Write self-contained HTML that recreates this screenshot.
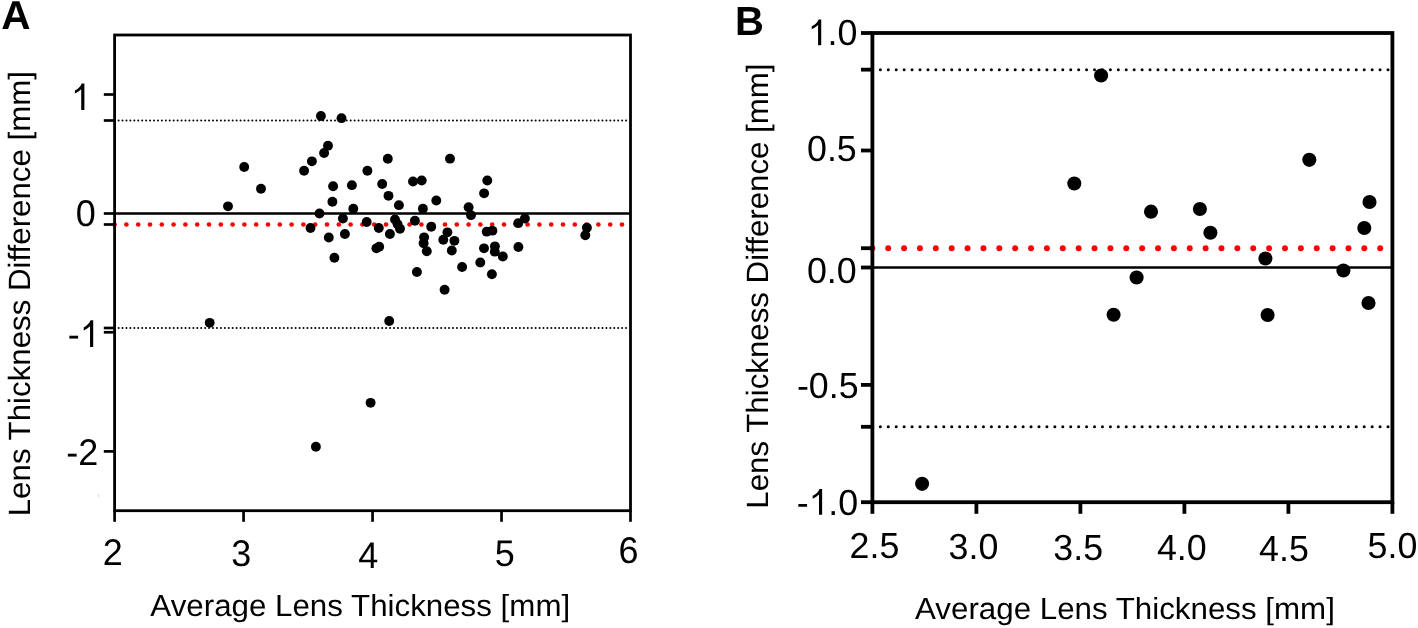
<!DOCTYPE html>
<html><head><meta charset="utf-8"><title>Bland-Altman plots</title>
<style>
html,body{margin:0;padding:0;background:#fff;}
body{width:1418px;height:628px;overflow:hidden;}
svg{display:block;font-family:"Liberation Sans", sans-serif;will-change:transform;text-rendering:geometricPrecision;}
svg text{font-family:"Liberation Sans", sans-serif;fill:#000;}
</style></head>
<body>
<svg width="1418" height="628" viewBox="0 0 1418 628">
<rect x="0" y="0" width="1418" height="628" fill="#fff"/>
<g fill="#000"><circle cx="118.60" cy="120.5" r="1.0"/><circle cx="122.53" cy="120.5" r="1.0"/><circle cx="126.47" cy="120.5" r="1.0"/><circle cx="130.40" cy="120.5" r="1.0"/><circle cx="134.34" cy="120.5" r="1.0"/><circle cx="138.27" cy="120.5" r="1.0"/><circle cx="142.20" cy="120.5" r="1.0"/><circle cx="146.14" cy="120.5" r="1.0"/><circle cx="150.07" cy="120.5" r="1.0"/><circle cx="154.01" cy="120.5" r="1.0"/><circle cx="157.94" cy="120.5" r="1.0"/><circle cx="161.87" cy="120.5" r="1.0"/><circle cx="165.81" cy="120.5" r="1.0"/><circle cx="169.74" cy="120.5" r="1.0"/><circle cx="173.68" cy="120.5" r="1.0"/><circle cx="177.61" cy="120.5" r="1.0"/><circle cx="181.54" cy="120.5" r="1.0"/><circle cx="185.48" cy="120.5" r="1.0"/><circle cx="189.41" cy="120.5" r="1.0"/><circle cx="193.35" cy="120.5" r="1.0"/><circle cx="197.28" cy="120.5" r="1.0"/><circle cx="201.21" cy="120.5" r="1.0"/><circle cx="205.15" cy="120.5" r="1.0"/><circle cx="209.08" cy="120.5" r="1.0"/><circle cx="213.02" cy="120.5" r="1.0"/><circle cx="216.95" cy="120.5" r="1.0"/><circle cx="220.88" cy="120.5" r="1.0"/><circle cx="224.82" cy="120.5" r="1.0"/><circle cx="228.75" cy="120.5" r="1.0"/><circle cx="232.69" cy="120.5" r="1.0"/><circle cx="236.62" cy="120.5" r="1.0"/><circle cx="240.55" cy="120.5" r="1.0"/><circle cx="244.49" cy="120.5" r="1.0"/><circle cx="248.42" cy="120.5" r="1.0"/><circle cx="252.36" cy="120.5" r="1.0"/><circle cx="256.29" cy="120.5" r="1.0"/><circle cx="260.22" cy="120.5" r="1.0"/><circle cx="264.16" cy="120.5" r="1.0"/><circle cx="268.09" cy="120.5" r="1.0"/><circle cx="272.03" cy="120.5" r="1.0"/><circle cx="275.96" cy="120.5" r="1.0"/><circle cx="279.89" cy="120.5" r="1.0"/><circle cx="283.83" cy="120.5" r="1.0"/><circle cx="287.76" cy="120.5" r="1.0"/><circle cx="291.70" cy="120.5" r="1.0"/><circle cx="295.63" cy="120.5" r="1.0"/><circle cx="299.56" cy="120.5" r="1.0"/><circle cx="303.50" cy="120.5" r="1.0"/><circle cx="307.43" cy="120.5" r="1.0"/><circle cx="311.37" cy="120.5" r="1.0"/><circle cx="315.30" cy="120.5" r="1.0"/><circle cx="319.23" cy="120.5" r="1.0"/><circle cx="323.17" cy="120.5" r="1.0"/><circle cx="327.10" cy="120.5" r="1.0"/><circle cx="331.04" cy="120.5" r="1.0"/><circle cx="334.97" cy="120.5" r="1.0"/><circle cx="338.90" cy="120.5" r="1.0"/><circle cx="342.84" cy="120.5" r="1.0"/><circle cx="346.77" cy="120.5" r="1.0"/><circle cx="350.71" cy="120.5" r="1.0"/><circle cx="354.64" cy="120.5" r="1.0"/><circle cx="358.57" cy="120.5" r="1.0"/><circle cx="362.51" cy="120.5" r="1.0"/><circle cx="366.44" cy="120.5" r="1.0"/><circle cx="370.38" cy="120.5" r="1.0"/><circle cx="374.31" cy="120.5" r="1.0"/><circle cx="378.24" cy="120.5" r="1.0"/><circle cx="382.18" cy="120.5" r="1.0"/><circle cx="386.11" cy="120.5" r="1.0"/><circle cx="390.05" cy="120.5" r="1.0"/><circle cx="393.98" cy="120.5" r="1.0"/><circle cx="397.91" cy="120.5" r="1.0"/><circle cx="401.85" cy="120.5" r="1.0"/><circle cx="405.78" cy="120.5" r="1.0"/><circle cx="409.72" cy="120.5" r="1.0"/><circle cx="413.65" cy="120.5" r="1.0"/><circle cx="417.58" cy="120.5" r="1.0"/><circle cx="421.52" cy="120.5" r="1.0"/><circle cx="425.45" cy="120.5" r="1.0"/><circle cx="429.39" cy="120.5" r="1.0"/><circle cx="433.32" cy="120.5" r="1.0"/><circle cx="437.25" cy="120.5" r="1.0"/><circle cx="441.19" cy="120.5" r="1.0"/><circle cx="445.12" cy="120.5" r="1.0"/><circle cx="449.06" cy="120.5" r="1.0"/><circle cx="452.99" cy="120.5" r="1.0"/><circle cx="456.92" cy="120.5" r="1.0"/><circle cx="460.86" cy="120.5" r="1.0"/><circle cx="464.79" cy="120.5" r="1.0"/><circle cx="468.73" cy="120.5" r="1.0"/><circle cx="472.66" cy="120.5" r="1.0"/><circle cx="476.59" cy="120.5" r="1.0"/><circle cx="480.53" cy="120.5" r="1.0"/><circle cx="484.46" cy="120.5" r="1.0"/><circle cx="488.40" cy="120.5" r="1.0"/><circle cx="492.33" cy="120.5" r="1.0"/><circle cx="496.26" cy="120.5" r="1.0"/><circle cx="500.20" cy="120.5" r="1.0"/><circle cx="504.13" cy="120.5" r="1.0"/><circle cx="508.07" cy="120.5" r="1.0"/><circle cx="512.00" cy="120.5" r="1.0"/><circle cx="515.93" cy="120.5" r="1.0"/><circle cx="519.87" cy="120.5" r="1.0"/><circle cx="523.80" cy="120.5" r="1.0"/><circle cx="527.74" cy="120.5" r="1.0"/><circle cx="531.67" cy="120.5" r="1.0"/><circle cx="535.60" cy="120.5" r="1.0"/><circle cx="539.54" cy="120.5" r="1.0"/><circle cx="543.47" cy="120.5" r="1.0"/><circle cx="547.41" cy="120.5" r="1.0"/><circle cx="551.34" cy="120.5" r="1.0"/><circle cx="555.27" cy="120.5" r="1.0"/><circle cx="559.21" cy="120.5" r="1.0"/><circle cx="563.14" cy="120.5" r="1.0"/><circle cx="567.08" cy="120.5" r="1.0"/><circle cx="571.01" cy="120.5" r="1.0"/><circle cx="574.94" cy="120.5" r="1.0"/><circle cx="578.88" cy="120.5" r="1.0"/><circle cx="582.81" cy="120.5" r="1.0"/><circle cx="586.75" cy="120.5" r="1.0"/><circle cx="590.68" cy="120.5" r="1.0"/><circle cx="594.61" cy="120.5" r="1.0"/><circle cx="598.55" cy="120.5" r="1.0"/><circle cx="602.48" cy="120.5" r="1.0"/><circle cx="606.42" cy="120.5" r="1.0"/><circle cx="610.35" cy="120.5" r="1.0"/><circle cx="614.28" cy="120.5" r="1.0"/><circle cx="618.22" cy="120.5" r="1.0"/><circle cx="622.15" cy="120.5" r="1.0"/><circle cx="626.09" cy="120.5" r="1.0"/></g>
<g fill="#000"><circle cx="118.60" cy="328.1" r="1.0"/><circle cx="122.53" cy="328.1" r="1.0"/><circle cx="126.47" cy="328.1" r="1.0"/><circle cx="130.40" cy="328.1" r="1.0"/><circle cx="134.34" cy="328.1" r="1.0"/><circle cx="138.27" cy="328.1" r="1.0"/><circle cx="142.20" cy="328.1" r="1.0"/><circle cx="146.14" cy="328.1" r="1.0"/><circle cx="150.07" cy="328.1" r="1.0"/><circle cx="154.01" cy="328.1" r="1.0"/><circle cx="157.94" cy="328.1" r="1.0"/><circle cx="161.87" cy="328.1" r="1.0"/><circle cx="165.81" cy="328.1" r="1.0"/><circle cx="169.74" cy="328.1" r="1.0"/><circle cx="173.68" cy="328.1" r="1.0"/><circle cx="177.61" cy="328.1" r="1.0"/><circle cx="181.54" cy="328.1" r="1.0"/><circle cx="185.48" cy="328.1" r="1.0"/><circle cx="189.41" cy="328.1" r="1.0"/><circle cx="193.35" cy="328.1" r="1.0"/><circle cx="197.28" cy="328.1" r="1.0"/><circle cx="201.21" cy="328.1" r="1.0"/><circle cx="205.15" cy="328.1" r="1.0"/><circle cx="209.08" cy="328.1" r="1.0"/><circle cx="213.02" cy="328.1" r="1.0"/><circle cx="216.95" cy="328.1" r="1.0"/><circle cx="220.88" cy="328.1" r="1.0"/><circle cx="224.82" cy="328.1" r="1.0"/><circle cx="228.75" cy="328.1" r="1.0"/><circle cx="232.69" cy="328.1" r="1.0"/><circle cx="236.62" cy="328.1" r="1.0"/><circle cx="240.55" cy="328.1" r="1.0"/><circle cx="244.49" cy="328.1" r="1.0"/><circle cx="248.42" cy="328.1" r="1.0"/><circle cx="252.36" cy="328.1" r="1.0"/><circle cx="256.29" cy="328.1" r="1.0"/><circle cx="260.22" cy="328.1" r="1.0"/><circle cx="264.16" cy="328.1" r="1.0"/><circle cx="268.09" cy="328.1" r="1.0"/><circle cx="272.03" cy="328.1" r="1.0"/><circle cx="275.96" cy="328.1" r="1.0"/><circle cx="279.89" cy="328.1" r="1.0"/><circle cx="283.83" cy="328.1" r="1.0"/><circle cx="287.76" cy="328.1" r="1.0"/><circle cx="291.70" cy="328.1" r="1.0"/><circle cx="295.63" cy="328.1" r="1.0"/><circle cx="299.56" cy="328.1" r="1.0"/><circle cx="303.50" cy="328.1" r="1.0"/><circle cx="307.43" cy="328.1" r="1.0"/><circle cx="311.37" cy="328.1" r="1.0"/><circle cx="315.30" cy="328.1" r="1.0"/><circle cx="319.23" cy="328.1" r="1.0"/><circle cx="323.17" cy="328.1" r="1.0"/><circle cx="327.10" cy="328.1" r="1.0"/><circle cx="331.04" cy="328.1" r="1.0"/><circle cx="334.97" cy="328.1" r="1.0"/><circle cx="338.90" cy="328.1" r="1.0"/><circle cx="342.84" cy="328.1" r="1.0"/><circle cx="346.77" cy="328.1" r="1.0"/><circle cx="350.71" cy="328.1" r="1.0"/><circle cx="354.64" cy="328.1" r="1.0"/><circle cx="358.57" cy="328.1" r="1.0"/><circle cx="362.51" cy="328.1" r="1.0"/><circle cx="366.44" cy="328.1" r="1.0"/><circle cx="370.38" cy="328.1" r="1.0"/><circle cx="374.31" cy="328.1" r="1.0"/><circle cx="378.24" cy="328.1" r="1.0"/><circle cx="382.18" cy="328.1" r="1.0"/><circle cx="386.11" cy="328.1" r="1.0"/><circle cx="390.05" cy="328.1" r="1.0"/><circle cx="393.98" cy="328.1" r="1.0"/><circle cx="397.91" cy="328.1" r="1.0"/><circle cx="401.85" cy="328.1" r="1.0"/><circle cx="405.78" cy="328.1" r="1.0"/><circle cx="409.72" cy="328.1" r="1.0"/><circle cx="413.65" cy="328.1" r="1.0"/><circle cx="417.58" cy="328.1" r="1.0"/><circle cx="421.52" cy="328.1" r="1.0"/><circle cx="425.45" cy="328.1" r="1.0"/><circle cx="429.39" cy="328.1" r="1.0"/><circle cx="433.32" cy="328.1" r="1.0"/><circle cx="437.25" cy="328.1" r="1.0"/><circle cx="441.19" cy="328.1" r="1.0"/><circle cx="445.12" cy="328.1" r="1.0"/><circle cx="449.06" cy="328.1" r="1.0"/><circle cx="452.99" cy="328.1" r="1.0"/><circle cx="456.92" cy="328.1" r="1.0"/><circle cx="460.86" cy="328.1" r="1.0"/><circle cx="464.79" cy="328.1" r="1.0"/><circle cx="468.73" cy="328.1" r="1.0"/><circle cx="472.66" cy="328.1" r="1.0"/><circle cx="476.59" cy="328.1" r="1.0"/><circle cx="480.53" cy="328.1" r="1.0"/><circle cx="484.46" cy="328.1" r="1.0"/><circle cx="488.40" cy="328.1" r="1.0"/><circle cx="492.33" cy="328.1" r="1.0"/><circle cx="496.26" cy="328.1" r="1.0"/><circle cx="500.20" cy="328.1" r="1.0"/><circle cx="504.13" cy="328.1" r="1.0"/><circle cx="508.07" cy="328.1" r="1.0"/><circle cx="512.00" cy="328.1" r="1.0"/><circle cx="515.93" cy="328.1" r="1.0"/><circle cx="519.87" cy="328.1" r="1.0"/><circle cx="523.80" cy="328.1" r="1.0"/><circle cx="527.74" cy="328.1" r="1.0"/><circle cx="531.67" cy="328.1" r="1.0"/><circle cx="535.60" cy="328.1" r="1.0"/><circle cx="539.54" cy="328.1" r="1.0"/><circle cx="543.47" cy="328.1" r="1.0"/><circle cx="547.41" cy="328.1" r="1.0"/><circle cx="551.34" cy="328.1" r="1.0"/><circle cx="555.27" cy="328.1" r="1.0"/><circle cx="559.21" cy="328.1" r="1.0"/><circle cx="563.14" cy="328.1" r="1.0"/><circle cx="567.08" cy="328.1" r="1.0"/><circle cx="571.01" cy="328.1" r="1.0"/><circle cx="574.94" cy="328.1" r="1.0"/><circle cx="578.88" cy="328.1" r="1.0"/><circle cx="582.81" cy="328.1" r="1.0"/><circle cx="586.75" cy="328.1" r="1.0"/><circle cx="590.68" cy="328.1" r="1.0"/><circle cx="594.61" cy="328.1" r="1.0"/><circle cx="598.55" cy="328.1" r="1.0"/><circle cx="602.48" cy="328.1" r="1.0"/><circle cx="606.42" cy="328.1" r="1.0"/><circle cx="610.35" cy="328.1" r="1.0"/><circle cx="614.28" cy="328.1" r="1.0"/><circle cx="618.22" cy="328.1" r="1.0"/><circle cx="622.15" cy="328.1" r="1.0"/><circle cx="626.09" cy="328.1" r="1.0"/></g>
<line x1="114.6" y1="213.5" x2="630.5" y2="213.5" stroke="#000" stroke-width="2.4" />
<g fill="#ff0000"><circle cx="114.60" cy="224.5" r="2.3"/><circle cx="126.40" cy="224.5" r="2.3"/><circle cx="138.20" cy="224.5" r="2.3"/><circle cx="150.00" cy="224.5" r="2.3"/><circle cx="161.80" cy="224.5" r="2.3"/><circle cx="173.60" cy="224.5" r="2.3"/><circle cx="185.40" cy="224.5" r="2.3"/><circle cx="197.20" cy="224.5" r="2.3"/><circle cx="209.00" cy="224.5" r="2.3"/><circle cx="220.80" cy="224.5" r="2.3"/><circle cx="232.60" cy="224.5" r="2.3"/><circle cx="244.40" cy="224.5" r="2.3"/><circle cx="256.20" cy="224.5" r="2.3"/><circle cx="268.00" cy="224.5" r="2.3"/><circle cx="279.80" cy="224.5" r="2.3"/><circle cx="291.60" cy="224.5" r="2.3"/><circle cx="303.40" cy="224.5" r="2.3"/><circle cx="315.20" cy="224.5" r="2.3"/><circle cx="327.00" cy="224.5" r="2.3"/><circle cx="338.80" cy="224.5" r="2.3"/><circle cx="350.60" cy="224.5" r="2.3"/><circle cx="362.40" cy="224.5" r="2.3"/><circle cx="374.20" cy="224.5" r="2.3"/><circle cx="386.00" cy="224.5" r="2.3"/><circle cx="397.80" cy="224.5" r="2.3"/><circle cx="409.60" cy="224.5" r="2.3"/><circle cx="421.40" cy="224.5" r="2.3"/><circle cx="433.20" cy="224.5" r="2.3"/><circle cx="445.00" cy="224.5" r="2.3"/><circle cx="456.80" cy="224.5" r="2.3"/><circle cx="468.60" cy="224.5" r="2.3"/><circle cx="480.40" cy="224.5" r="2.3"/><circle cx="492.20" cy="224.5" r="2.3"/><circle cx="504.00" cy="224.5" r="2.3"/><circle cx="515.80" cy="224.5" r="2.3"/><circle cx="527.60" cy="224.5" r="2.3"/><circle cx="539.40" cy="224.5" r="2.3"/><circle cx="551.20" cy="224.5" r="2.3"/><circle cx="563.00" cy="224.5" r="2.3"/><circle cx="574.80" cy="224.5" r="2.3"/><circle cx="586.60" cy="224.5" r="2.3"/><circle cx="598.40" cy="224.5" r="2.3"/><circle cx="610.20" cy="224.5" r="2.3"/><circle cx="622.00" cy="224.5" r="2.3"/></g>
<g fill="#000"><circle cx="320.9" cy="115.95" r="4.95"/><circle cx="341.5" cy="118.15" r="4.95"/><circle cx="328.0" cy="145.65" r="4.95"/><circle cx="324.1" cy="152.95000000000002" r="4.95"/><circle cx="311.9" cy="161.35" r="4.95"/><circle cx="304.1" cy="170.75" r="4.95"/><circle cx="244.2" cy="167.05" r="4.95"/><circle cx="367.4" cy="170.75" r="4.95"/><circle cx="261.0" cy="188.75" r="4.95"/><circle cx="228.0" cy="206.35" r="4.95"/><circle cx="333.1" cy="186.25" r="4.95"/><circle cx="351.9" cy="185.15" r="4.95"/><circle cx="382.2" cy="183.95000000000002" r="4.95"/><circle cx="387.8" cy="158.75" r="4.95"/><circle cx="332.4" cy="201.75" r="4.95"/><circle cx="353.3" cy="208.65" r="4.95"/><circle cx="319.5" cy="213.45000000000002" r="4.95"/><circle cx="342.9" cy="218.55" r="4.95"/><circle cx="366.7" cy="222.05" r="4.95"/><circle cx="310.5" cy="227.95000000000002" r="4.95"/><circle cx="378.8" cy="228.05" r="4.95"/><circle cx="328.8" cy="237.55" r="4.95"/><circle cx="344.9" cy="233.95000000000002" r="4.95"/><circle cx="376.4" cy="248.35" r="4.95"/><circle cx="379.2" cy="246.75" r="4.95"/><circle cx="334.4" cy="257.75" r="4.95"/><circle cx="388.5" cy="195.85" r="4.95"/><circle cx="398.9" cy="205.15" r="4.95"/><circle cx="413.0" cy="181.45000000000002" r="4.95"/><circle cx="421.7" cy="180.45000000000002" r="4.95"/><circle cx="436.3" cy="200.55" r="4.95"/><circle cx="422.9" cy="208.65" r="4.95"/><circle cx="450.0" cy="158.65" r="4.95"/><circle cx="395.0" cy="219.45000000000002" r="4.95"/><circle cx="397.6" cy="224.15" r="4.95"/><circle cx="400.0" cy="228.85" r="4.95"/><circle cx="389.9" cy="233.95000000000002" r="4.95"/><circle cx="414.9" cy="220.75" r="4.95"/><circle cx="431.2" cy="226.75" r="4.95"/><circle cx="424.1" cy="237.35" r="4.95"/><circle cx="423.6" cy="243.25" r="4.95"/><circle cx="426.8" cy="251.25" r="4.95"/><circle cx="447.4" cy="232.35" r="4.95"/><circle cx="443.3" cy="239.75" r="4.95"/><circle cx="454.4" cy="240.85" r="4.95"/><circle cx="451.8" cy="250.45000000000002" r="4.95"/><circle cx="416.9" cy="271.95" r="4.95"/><circle cx="462.1" cy="267.04999999999995" r="4.95"/><circle cx="444.6" cy="289.75" r="4.95"/><circle cx="487.3" cy="180.45000000000002" r="4.95"/><circle cx="484.1" cy="193.35" r="4.95"/><circle cx="468.6" cy="207.25" r="4.95"/><circle cx="471.0" cy="215.15" r="4.95"/><circle cx="524.9" cy="218.55" r="4.95"/><circle cx="518.2" cy="223.15" r="4.95"/><circle cx="486.7" cy="231.65" r="4.95"/><circle cx="492.4" cy="230.65" r="4.95"/><circle cx="484.0" cy="248.35" r="4.95"/><circle cx="494.9" cy="246.35" r="4.95"/><circle cx="494.8" cy="251.65" r="4.95"/><circle cx="502.8" cy="256.54999999999995" r="4.95"/><circle cx="518.4" cy="246.95000000000002" r="4.95"/><circle cx="480.3" cy="262.54999999999995" r="4.95"/><circle cx="491.9" cy="274.25" r="4.95"/><circle cx="586.9" cy="227.75" r="4.95"/><circle cx="585.3" cy="235.25" r="4.95"/><circle cx="209.7" cy="322.84999999999997" r="4.95"/><circle cx="389.2" cy="320.95" r="4.95"/><circle cx="370.6" cy="402.84999999999997" r="4.95"/><circle cx="315.9" cy="446.75" r="4.95"/></g>
<rect x="114.6" y="35.0" width="515.9" height="475.7" fill="none" stroke="#000" stroke-width="2.8"/>
<line x1="103.8" y1="94.5" x2="114.6" y2="94.5" stroke="#000" stroke-width="2.7" />
<line x1="103.8" y1="120.5" x2="114.6" y2="120.5" stroke="#000" stroke-width="2.7" />
<line x1="103.8" y1="213.5" x2="114.6" y2="213.5" stroke="#000" stroke-width="2.7" />
<line x1="103.8" y1="224.5" x2="114.6" y2="224.5" stroke="#000" stroke-width="2.7" />
<line x1="103.8" y1="328.0" x2="114.6" y2="328.0" stroke="#000" stroke-width="2.7" />
<line x1="103.8" y1="332.3" x2="114.6" y2="332.3" stroke="#000" stroke-width="2.7" />
<line x1="103.8" y1="451.4" x2="114.6" y2="451.4" stroke="#000" stroke-width="2.7" />
<line x1="114.6" y1="510.7" x2="114.6" y2="521.8" stroke="#000" stroke-width="2.7" />
<line x1="243.575" y1="510.7" x2="243.575" y2="521.8" stroke="#000" stroke-width="2.7" />
<line x1="372.54999999999995" y1="510.7" x2="372.54999999999995" y2="521.8" stroke="#000" stroke-width="2.7" />
<line x1="501.525" y1="510.7" x2="501.525" y2="521.8" stroke="#000" stroke-width="2.7" />
<line x1="630.5" y1="510.7" x2="630.5" y2="521.8" stroke="#000" stroke-width="2.7" />
<g fill="#000"><circle cx="880.35" cy="69.65" r="1.5"/><circle cx="888.28" cy="69.65" r="1.5"/><circle cx="896.21" cy="69.65" r="1.5"/><circle cx="904.15" cy="69.65" r="1.5"/><circle cx="912.08" cy="69.65" r="1.5"/><circle cx="920.01" cy="69.65" r="1.5"/><circle cx="927.94" cy="69.65" r="1.5"/><circle cx="935.87" cy="69.65" r="1.5"/><circle cx="943.81" cy="69.65" r="1.5"/><circle cx="951.74" cy="69.65" r="1.5"/><circle cx="959.67" cy="69.65" r="1.5"/><circle cx="967.60" cy="69.65" r="1.5"/><circle cx="975.53" cy="69.65" r="1.5"/><circle cx="983.47" cy="69.65" r="1.5"/><circle cx="991.40" cy="69.65" r="1.5"/><circle cx="999.33" cy="69.65" r="1.5"/><circle cx="1007.26" cy="69.65" r="1.5"/><circle cx="1015.19" cy="69.65" r="1.5"/><circle cx="1023.13" cy="69.65" r="1.5"/><circle cx="1031.06" cy="69.65" r="1.5"/><circle cx="1038.99" cy="69.65" r="1.5"/><circle cx="1046.92" cy="69.65" r="1.5"/><circle cx="1054.85" cy="69.65" r="1.5"/><circle cx="1062.79" cy="69.65" r="1.5"/><circle cx="1070.72" cy="69.65" r="1.5"/><circle cx="1078.65" cy="69.65" r="1.5"/><circle cx="1086.58" cy="69.65" r="1.5"/><circle cx="1094.51" cy="69.65" r="1.5"/><circle cx="1102.45" cy="69.65" r="1.5"/><circle cx="1110.38" cy="69.65" r="1.5"/><circle cx="1118.31" cy="69.65" r="1.5"/><circle cx="1126.24" cy="69.65" r="1.5"/><circle cx="1134.17" cy="69.65" r="1.5"/><circle cx="1142.11" cy="69.65" r="1.5"/><circle cx="1150.04" cy="69.65" r="1.5"/><circle cx="1157.97" cy="69.65" r="1.5"/><circle cx="1165.90" cy="69.65" r="1.5"/><circle cx="1173.83" cy="69.65" r="1.5"/><circle cx="1181.77" cy="69.65" r="1.5"/><circle cx="1189.70" cy="69.65" r="1.5"/><circle cx="1197.63" cy="69.65" r="1.5"/><circle cx="1205.56" cy="69.65" r="1.5"/><circle cx="1213.49" cy="69.65" r="1.5"/><circle cx="1221.43" cy="69.65" r="1.5"/><circle cx="1229.36" cy="69.65" r="1.5"/><circle cx="1237.29" cy="69.65" r="1.5"/><circle cx="1245.22" cy="69.65" r="1.5"/><circle cx="1253.15" cy="69.65" r="1.5"/><circle cx="1261.09" cy="69.65" r="1.5"/><circle cx="1269.02" cy="69.65" r="1.5"/><circle cx="1276.95" cy="69.65" r="1.5"/><circle cx="1284.88" cy="69.65" r="1.5"/><circle cx="1292.81" cy="69.65" r="1.5"/><circle cx="1300.75" cy="69.65" r="1.5"/><circle cx="1308.68" cy="69.65" r="1.5"/><circle cx="1316.61" cy="69.65" r="1.5"/><circle cx="1324.54" cy="69.65" r="1.5"/><circle cx="1332.47" cy="69.65" r="1.5"/><circle cx="1340.41" cy="69.65" r="1.5"/><circle cx="1348.34" cy="69.65" r="1.5"/><circle cx="1356.27" cy="69.65" r="1.5"/><circle cx="1364.20" cy="69.65" r="1.5"/><circle cx="1372.13" cy="69.65" r="1.5"/><circle cx="1380.07" cy="69.65" r="1.5"/><circle cx="1388.00" cy="69.65" r="1.5"/></g>
<g fill="#000"><circle cx="880.35" cy="426.8" r="1.5"/><circle cx="888.28" cy="426.8" r="1.5"/><circle cx="896.21" cy="426.8" r="1.5"/><circle cx="904.15" cy="426.8" r="1.5"/><circle cx="912.08" cy="426.8" r="1.5"/><circle cx="920.01" cy="426.8" r="1.5"/><circle cx="927.94" cy="426.8" r="1.5"/><circle cx="935.87" cy="426.8" r="1.5"/><circle cx="943.81" cy="426.8" r="1.5"/><circle cx="951.74" cy="426.8" r="1.5"/><circle cx="959.67" cy="426.8" r="1.5"/><circle cx="967.60" cy="426.8" r="1.5"/><circle cx="975.53" cy="426.8" r="1.5"/><circle cx="983.47" cy="426.8" r="1.5"/><circle cx="991.40" cy="426.8" r="1.5"/><circle cx="999.33" cy="426.8" r="1.5"/><circle cx="1007.26" cy="426.8" r="1.5"/><circle cx="1015.19" cy="426.8" r="1.5"/><circle cx="1023.13" cy="426.8" r="1.5"/><circle cx="1031.06" cy="426.8" r="1.5"/><circle cx="1038.99" cy="426.8" r="1.5"/><circle cx="1046.92" cy="426.8" r="1.5"/><circle cx="1054.85" cy="426.8" r="1.5"/><circle cx="1062.79" cy="426.8" r="1.5"/><circle cx="1070.72" cy="426.8" r="1.5"/><circle cx="1078.65" cy="426.8" r="1.5"/><circle cx="1086.58" cy="426.8" r="1.5"/><circle cx="1094.51" cy="426.8" r="1.5"/><circle cx="1102.45" cy="426.8" r="1.5"/><circle cx="1110.38" cy="426.8" r="1.5"/><circle cx="1118.31" cy="426.8" r="1.5"/><circle cx="1126.24" cy="426.8" r="1.5"/><circle cx="1134.17" cy="426.8" r="1.5"/><circle cx="1142.11" cy="426.8" r="1.5"/><circle cx="1150.04" cy="426.8" r="1.5"/><circle cx="1157.97" cy="426.8" r="1.5"/><circle cx="1165.90" cy="426.8" r="1.5"/><circle cx="1173.83" cy="426.8" r="1.5"/><circle cx="1181.77" cy="426.8" r="1.5"/><circle cx="1189.70" cy="426.8" r="1.5"/><circle cx="1197.63" cy="426.8" r="1.5"/><circle cx="1205.56" cy="426.8" r="1.5"/><circle cx="1213.49" cy="426.8" r="1.5"/><circle cx="1221.43" cy="426.8" r="1.5"/><circle cx="1229.36" cy="426.8" r="1.5"/><circle cx="1237.29" cy="426.8" r="1.5"/><circle cx="1245.22" cy="426.8" r="1.5"/><circle cx="1253.15" cy="426.8" r="1.5"/><circle cx="1261.09" cy="426.8" r="1.5"/><circle cx="1269.02" cy="426.8" r="1.5"/><circle cx="1276.95" cy="426.8" r="1.5"/><circle cx="1284.88" cy="426.8" r="1.5"/><circle cx="1292.81" cy="426.8" r="1.5"/><circle cx="1300.75" cy="426.8" r="1.5"/><circle cx="1308.68" cy="426.8" r="1.5"/><circle cx="1316.61" cy="426.8" r="1.5"/><circle cx="1324.54" cy="426.8" r="1.5"/><circle cx="1332.47" cy="426.8" r="1.5"/><circle cx="1340.41" cy="426.8" r="1.5"/><circle cx="1348.34" cy="426.8" r="1.5"/><circle cx="1356.27" cy="426.8" r="1.5"/><circle cx="1364.20" cy="426.8" r="1.5"/><circle cx="1372.13" cy="426.8" r="1.5"/><circle cx="1380.07" cy="426.8" r="1.5"/><circle cx="1388.00" cy="426.8" r="1.5"/></g>
<line x1="872.4" y1="267.5" x2="1392.4" y2="267.5" stroke="#000" stroke-width="2.6" />
<g fill="#ff0000"><circle cx="872.33" cy="248.2" r="2.95"/><circle cx="888.20" cy="248.2" r="2.95"/><circle cx="904.07" cy="248.2" r="2.95"/><circle cx="919.94" cy="248.2" r="2.95"/><circle cx="935.81" cy="248.2" r="2.95"/><circle cx="951.68" cy="248.2" r="2.95"/><circle cx="967.56" cy="248.2" r="2.95"/><circle cx="983.43" cy="248.2" r="2.95"/><circle cx="999.30" cy="248.2" r="2.95"/><circle cx="1015.17" cy="248.2" r="2.95"/><circle cx="1031.04" cy="248.2" r="2.95"/><circle cx="1046.91" cy="248.2" r="2.95"/><circle cx="1062.78" cy="248.2" r="2.95"/><circle cx="1078.65" cy="248.2" r="2.95"/><circle cx="1094.52" cy="248.2" r="2.95"/><circle cx="1110.40" cy="248.2" r="2.95"/><circle cx="1126.27" cy="248.2" r="2.95"/><circle cx="1142.14" cy="248.2" r="2.95"/><circle cx="1158.01" cy="248.2" r="2.95"/><circle cx="1173.88" cy="248.2" r="2.95"/><circle cx="1189.75" cy="248.2" r="2.95"/><circle cx="1205.62" cy="248.2" r="2.95"/><circle cx="1221.49" cy="248.2" r="2.95"/><circle cx="1237.36" cy="248.2" r="2.95"/><circle cx="1253.23" cy="248.2" r="2.95"/><circle cx="1269.11" cy="248.2" r="2.95"/><circle cx="1284.98" cy="248.2" r="2.95"/><circle cx="1300.85" cy="248.2" r="2.95"/><circle cx="1316.72" cy="248.2" r="2.95"/><circle cx="1332.59" cy="248.2" r="2.95"/><circle cx="1348.46" cy="248.2" r="2.95"/><circle cx="1364.33" cy="248.2" r="2.95"/><circle cx="1380.20" cy="248.2" r="2.95"/></g>
<g fill="#000"><circle cx="1101.1" cy="75.55000000000001" r="7.05"/><circle cx="1074.3" cy="183.45000000000002" r="7.05"/><circle cx="1151.0" cy="211.65" r="7.05"/><circle cx="1199.9" cy="208.95000000000002" r="7.05"/><circle cx="1210.4" cy="232.75" r="7.05"/><circle cx="1136.6" cy="277.45" r="7.05"/><circle cx="1113.6" cy="314.75" r="7.05"/><circle cx="1309.3" cy="159.85" r="7.05"/><circle cx="1369.5" cy="201.95000000000002" r="7.05"/><circle cx="1364.3" cy="228.05" r="7.05"/><circle cx="1265.4" cy="258.54999999999995" r="7.05"/><circle cx="1343.4" cy="270.54999999999995" r="7.05"/><circle cx="1267.6" cy="314.95" r="7.05"/><circle cx="1368.5" cy="302.95" r="7.05"/><circle cx="922.1" cy="483.84999999999997" r="7.05"/></g>
<rect x="872.4" y="33.0" width="520.0000000000001" height="469.2" fill="none" stroke="#000" stroke-width="3.8"/>
<line x1="861.0" y1="33.0" x2="872.4" y2="33.0" stroke="#000" stroke-width="3.8" />
<line x1="861.0" y1="69.65" x2="872.4" y2="69.65" stroke="#000" stroke-width="3.8" />
<line x1="861.0" y1="150.5" x2="872.4" y2="150.5" stroke="#000" stroke-width="3.8" />
<line x1="861.0" y1="248.2" x2="872.4" y2="248.2" stroke="#000" stroke-width="3.8" />
<line x1="861.0" y1="267.5" x2="872.4" y2="267.5" stroke="#000" stroke-width="3.8" />
<line x1="861.0" y1="384.9" x2="872.4" y2="384.9" stroke="#000" stroke-width="3.8" />
<line x1="861.0" y1="426.8" x2="872.4" y2="426.8" stroke="#000" stroke-width="3.8" />
<line x1="861.0" y1="502.2" x2="872.4" y2="502.2" stroke="#000" stroke-width="3.8" />
<line x1="872.4" y1="502.2" x2="872.4" y2="513.8" stroke="#000" stroke-width="3.8" />
<line x1="976.4" y1="502.2" x2="976.4" y2="513.8" stroke="#000" stroke-width="3.8" />
<line x1="1080.4" y1="502.2" x2="1080.4" y2="513.8" stroke="#000" stroke-width="3.8" />
<line x1="1184.4" y1="502.2" x2="1184.4" y2="513.8" stroke="#000" stroke-width="3.8" />
<line x1="1288.4" y1="502.2" x2="1288.4" y2="513.8" stroke="#000" stroke-width="3.8" />
<line x1="1392.4" y1="502.2" x2="1392.4" y2="513.8" stroke="#000" stroke-width="3.8" />
<rect x="98" y="494" width="1.1" height="3.2" fill="#dcdcdc"/>
<rect x="858" y="517" width="1" height="1.2" fill="#e6e6e6"/>
<g transform="translate(102.69,565.05) scale(36.000,37.080)"><text x="0.0000" y="0" font-size="1" font-weight="400">2</text></g>
<g transform="translate(231.24,566.21) scale(36.000,37.080)"><text x="0.0000" y="0" font-size="1" font-weight="400">3</text></g>
<g transform="translate(358.25,567.61) scale(36.000,37.080)"><text x="0.0000" y="0" font-size="1" font-weight="400">4</text></g>
<g transform="translate(494.67,565.92) scale(36.000,37.080)"><text x="0.0000" y="0" font-size="1" font-weight="400">5</text></g>
<g transform="translate(618.57,563.46) scale(36.000,37.080)"><text x="0.0000" y="0" font-size="1" font-weight="400">6</text></g>
<g transform="translate(70.97,109.97) scale(36.000,37.080)"><path transform="translate(0.0000,0)" d="M0.373,0 L0.285,0 L0.285,-0.558 C0.243,-0.518 0.180,-0.478 0.109,-0.442 L0.109,-0.527 C0.200,-0.572 0.265,-0.630 0.300,-0.716 L0.373,-0.716 Z"/></g>
<g transform="translate(75.84,225.86) scale(36.000,37.080)"><text x="0.0000" y="0" font-size="1" font-weight="400">0</text></g>
<g transform="translate(67.79,346.92) scale(36.000,37.080)"><text x="0.0000" y="0" font-size="1" font-weight="400">-</text><path transform="translate(0.3330,0)" d="M0.373,0 L0.285,0 L0.285,-0.558 C0.243,-0.518 0.180,-0.478 0.109,-0.442 L0.109,-0.527 C0.200,-0.572 0.265,-0.630 0.300,-0.716 L0.373,-0.716 Z"/></g>
<g transform="translate(66.20,465.05) scale(36.000,37.080)"><text x="0.0000" y="0" font-size="1" font-weight="400">-2</text></g>
<g transform="translate(807.86,45.34) scale(35.800,36.230)"><path transform="translate(0.0000,0)" d="M0.373,0 L0.285,0 L0.285,-0.558 C0.243,-0.518 0.180,-0.478 0.109,-0.442 L0.109,-0.527 C0.200,-0.572 0.265,-0.630 0.300,-0.716 L0.373,-0.716 Z"/><text x="0.5562" y="0" font-size="1" font-weight="400">.0</text></g>
<g transform="translate(806.97,160.52) scale(35.800,36.230)"><text x="0.0000" y="0" font-size="1" font-weight="400">0.5</text></g>
<g transform="translate(806.92,283.22) scale(35.800,36.230)"><text x="0.0000" y="0" font-size="1" font-weight="400">0.0</text></g>
<g transform="translate(796.91,397.52) scale(35.800,36.230)"><text x="0.0000" y="0" font-size="1" font-weight="400">-0.5</text></g>
<g transform="translate(796.86,514.84) scale(35.800,36.230)"><text x="0.0000" y="0" font-size="1" font-weight="400">-</text><path transform="translate(0.3330,0)" d="M0.373,0 L0.285,0 L0.285,-0.558 C0.243,-0.518 0.180,-0.478 0.109,-0.442 L0.109,-0.527 C0.200,-0.572 0.265,-0.630 0.300,-0.716 L0.373,-0.716 Z"/><text x="0.8892" y="0" font-size="1" font-weight="400">.0</text></g>
<g transform="translate(849.57,558.07) scale(35.800,36.230)"><text x="0.0000" y="0" font-size="1" font-weight="400">2.5</text></g>
<g transform="translate(948.53,559.07) scale(35.800,36.230)"><text x="0.0000" y="0" font-size="1" font-weight="400">3.0</text></g>
<g transform="translate(1053.34,559.72) scale(35.800,36.230)"><text x="0.0000" y="0" font-size="1" font-weight="400">3.5</text></g>
<g transform="translate(1156.90,560.37) scale(35.800,36.230)"><text x="0.0000" y="0" font-size="1" font-weight="400">4.0</text></g>
<g transform="translate(1259.11,561.19) scale(35.800,36.230)"><text x="0.0000" y="0" font-size="1" font-weight="400">4.5</text></g>
<g transform="translate(1367.60,557.77) scale(35.800,36.230)"><text x="0.0000" y="0" font-size="1" font-weight="400">5.0</text></g>
<text transform="translate(150.34,616.30) scale(1,0.975)" font-size="31.3">Average Lens Thickness [mm]</text>
<text transform="translate(915.04,619.00) scale(1,0.975)" font-size="31.3">Average Lens Thickness [mm]</text>
<text transform="translate(29.90,516.26) rotate(-90) scale(1,0.985)" font-size="31.25">Lens Thickness Difference [mm]</text>
<text transform="translate(767.60,508.66) rotate(-90) scale(1,0.985)" font-size="31.25">Lens Thickness Difference [mm]</text>
<g transform="translate(1.22,29.13) scale(40.600,40.194)"><text x="0.0000" y="0" font-size="1" font-weight="700">A</text></g>
<g transform="translate(734.88,35.42) scale(40.000,40.600)"><text x="0.0000" y="0" font-size="1" font-weight="700">B</text></g>
</svg>
</body></html>
